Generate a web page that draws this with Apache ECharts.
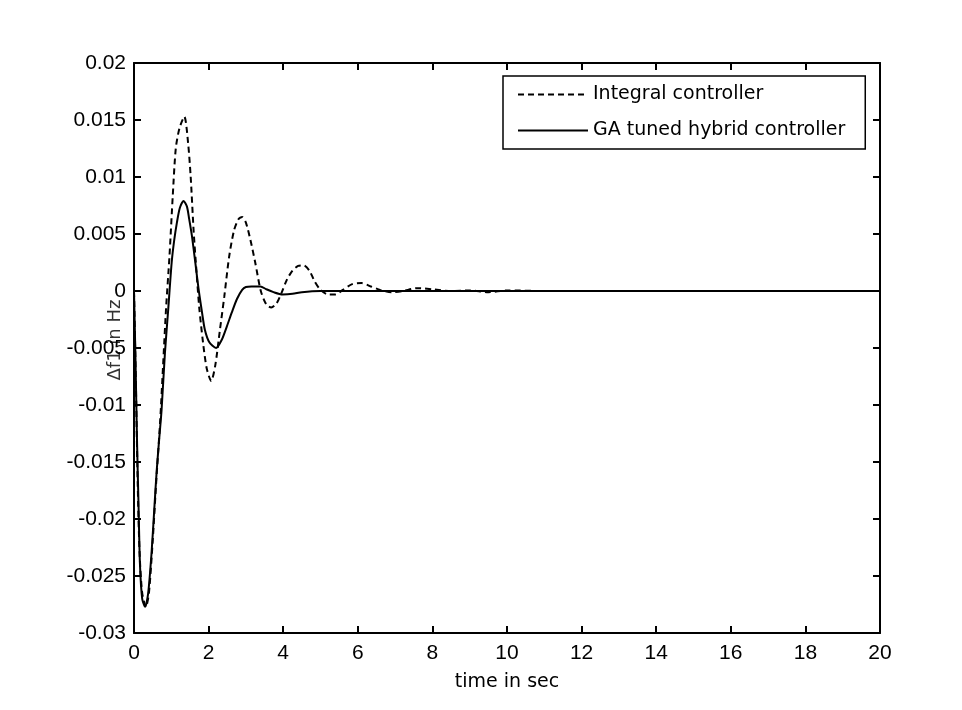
<!DOCTYPE html>
<html>
<head>
<meta charset="utf-8">
<title>Frequency deviation Δf1</title>
<script src="https://cdn.jsdelivr.net/npm/echarts@6/dist/echarts.min.js"></script>
<style>
  html, body { margin: 0; padding: 0; background: #fff; }
  #chart { width: 962px; height: 710px; }
</style>
</head>
<body>
<div id="chart"></div>
<script>
// Time samples (s) and frequency deviation (Hz) for the integral controller
const integralTime = [0, 0.05, 0.10, 0.15, 0.22, 0.32, 0.40, 0.50, 0.60, 0.70, 0.78, 0.86, 0.95, 1.04, 1.12, 1.22, 1.35, 1.45, 1.52, 1.60, 1.68, 1.75, 1.85, 1.95, 2.07, 2.18, 2.30, 2.42, 2.55, 2.68, 2.80, 2.90, 3.00, 3.12, 3.25, 3.40, 3.55, 3.68, 3.82, 3.95, 4.10, 4.25, 4.40, 4.55, 4.70, 4.85, 5.00, 5.20, 5.40, 5.60, 5.85, 6.10, 6.35, 6.60, 6.90, 7.20, 7.60, 8.00, 8.50, 9.00, 9.50, 10.0, 11.0, 20.0];
const integralDf = [0, -0.0080, -0.0170, -0.0230, -0.0265, -0.0277, -0.0265, -0.0220, -0.0165, -0.0115, -0.0065, -0.0015, 0.0030, 0.0084, 0.0125, 0.0143, 0.0153, 0.0130, 0.0100, 0.0052, 0.0015, -0.0015, -0.0045, -0.0068, -0.0079, -0.0065, -0.0035, -0.0005, 0.0030, 0.0053, 0.0063, 0.0065, 0.0060, 0.0045, 0.0025, 0.0000, -0.0012, -0.00145, -0.0011, -0.0002, 0.0010, 0.0018, 0.0022, 0.00225, 0.0018, 0.0008, 0.0001, -0.0003, -0.0003, 0.0001, 0.0006, 0.0007, 0.0004, 0.0001, -0.0001, 0.0000, 0.00025, 0.00015, 0.0000, 0.00005, -0.0001, 0.00005, 0.0000, 0.0000];

// Time samples (s) and frequency deviation (Hz) for the GA tuned hybrid controller
const hybridTime = [0, 0.04, 0.08, 0.12, 0.16, 0.22, 0.30, 0.38, 0.47, 0.55, 0.61, 0.68, 0.74, 0.83, 0.92, 1.01, 1.08, 1.15, 1.23, 1.33, 1.42, 1.48, 1.55, 1.64, 1.73, 1.82, 1.90, 2.02, 2.20, 2.35, 2.49, 2.62, 2.76, 2.90, 3.00, 3.15, 3.39, 3.55, 3.74, 3.98, 4.25, 4.50, 5.00, 20.0];
const hybridDf = [0, -0.0060, -0.0130, -0.0186, -0.0240, -0.0270, -0.0277, -0.0265, -0.0230, -0.0188, -0.0157, -0.0128, -0.0104, -0.0054, -0.0015, 0.0025, 0.0045, 0.0060, 0.0073, 0.0079, 0.0074, 0.0063, 0.0049, 0.0026, 0.0002, -0.0018, -0.0034, -0.0045, -0.0050, -0.0043, -0.0031, -0.0019, -0.0007, 0.0001, 0.00035, 0.0004, 0.0004, 0.00015, -0.0001, -0.0003, -0.00025, -0.0001, 0.0000, 0.0000];

// Series names and axis captions
const seriesNames = ['Integral controller', 'GA tuned hybrid controller'];
const xTicks = [0, 2, 4, 6, 8, 10, 12, 14, 16, 18, 20];
const yTickLabels = ['-0.03', '-0.025', '-0.02', '-0.015', '-0.01', '-0.005', '0', '0.005', '0.01', '0.015', '0.02'];
const xTitle = 'time in sec';
const yTitle = 'Δf1 in Hz';

function pairs(ts, vs) { return ts.map((t, i) => [t, vs[i]]); }

const tickFont = "'Liberation Sans', Arial, sans-serif";
const textFont = "'DejaVu Sans', sans-serif";

const yMin = -0.03, yMax = 0.02, yStep = 0.005;
function yLabel(v) {
  const idx = Math.round((v - yMin) / yStep);
  return yTickLabels[idx] !== undefined ? yTickLabels[idx] : '';
}

const frameLine = { show: true, onZero: false, lineStyle: { color: '#000', width: 2 } };
const innerTicks = { show: true, inside: true, length: 7, lineStyle: { color: '#000', width: 2 } };

const chart = echarts.init(document.getElementById('chart'), null, { renderer: 'canvas' });
chart.setOption({
  backgroundColor: '#fff',
  animation: false,
  grid: { left: 134, right: 82, top: 63, bottom: 77, containLabel: false },
  legend: {
    data: seriesNames,
    orient: 'vertical',
    left: 503,
    top: 76,
    padding: [9, 20, 9, 14],
    itemWidth: 70,
    itemHeight: 16,
    itemGap: 17,
    backgroundColor: '#fff',
    borderColor: '#000',
    borderWidth: 1.5,
    borderRadius: 0,
    itemStyle: { opacity: 0 },
    textStyle: { fontFamily: textFont, fontSize: 19, color: '#000' }
  },
  xAxis: [
    {
      type: 'value', position: 'bottom', min: 0, max: 20, interval: 2,
      axisLine: frameLine, axisTick: innerTicks, splitLine: { show: false },
      axisLabel: { margin: 10, color: '#000', fontFamily: tickFont, fontSize: 21,
        formatter: v => (xTicks.indexOf(v) >= 0 ? String(v) : '') },
      name: xTitle, nameLocation: 'middle', nameGap: 40,
      nameTextStyle: { fontFamily: textFont, fontSize: 19, color: '#000' }
    },
    {
      type: 'value', position: 'top', min: 0, max: 20, interval: 2,
      axisLine: frameLine, axisTick: innerTicks, axisLabel: { show: false }, splitLine: { show: false }
    }
  ],
  yAxis: [
    {
      type: 'value', position: 'left', min: yMin, max: yMax, interval: yStep,
      axisLine: frameLine, axisTick: innerTicks, splitLine: { show: false },
      axisLabel: { margin: 8, color: '#000', fontFamily: tickFont, fontSize: 21, formatter: yLabel },
      name: yTitle, nameLocation: 'middle', nameGap: 10, nameMoveOverlap: false,
      nameTextStyle: { fontFamily: textFont, fontSize: 18, color: '#333', padding: [0, 0, 0, 16] }
    },
    {
      type: 'value', position: 'right', min: yMin, max: yMax, interval: yStep,
      axisLine: frameLine, axisTick: innerTicks, axisLabel: { show: false }, splitLine: { show: false }
    }
  ],
  series: [
    {
      name: seriesNames[0], type: 'line', xAxisIndex: 0, yAxisIndex: 0,
      data: pairs(integralTime, integralDf),
      symbol: 'none', smooth: 0.25, z: 3,
      lineStyle: { color: '#000', width: 2, type: [6, 4] },
      itemStyle: { color: '#000' }
    },
    {
      name: seriesNames[1], type: 'line', xAxisIndex: 0, yAxisIndex: 0,
      data: pairs(hybridTime, hybridDf),
      symbol: 'none', smooth: 0.25, z: 4,
      lineStyle: { color: '#000', width: 2, type: 'solid' },
      itemStyle: { color: '#000' }
    }
  ]
});
</script>
</body>
</html>
